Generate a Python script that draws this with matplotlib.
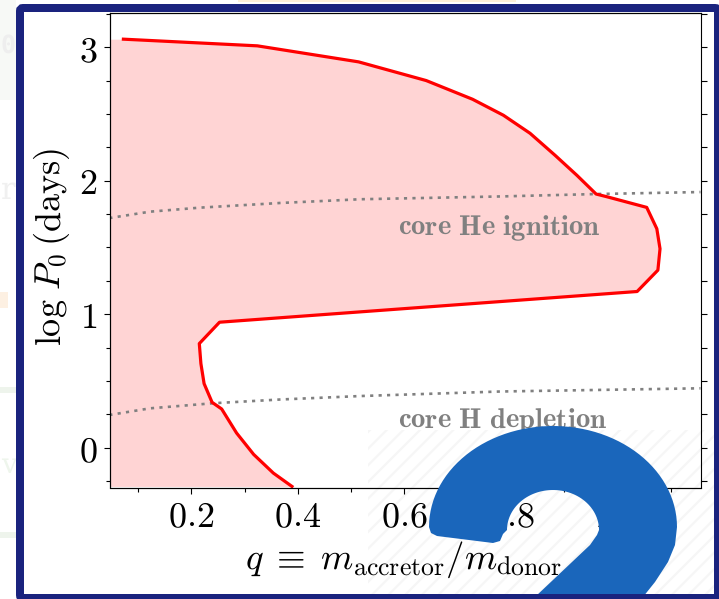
import matplotlib
matplotlib.use('Agg')
import matplotlib.pyplot as plt
from matplotlib.patches import FancyBboxPatch, Rectangle, Polygon
import numpy as np

plt.rcParams['mathtext.fontset'] = 'cm'
plt.rcParams['font.family'] = ['DejaVu Serif']
plt.rcParams['hatch.linewidth'] = 1.6
plt.rcParams['text.hinting'] = 'none'

# Boundary of the shaded region
boundary_q = [0.0725, 0.324, 0.514, 0.641, 0.728, 0.786, 0.836, 0.883, 0.924,
              0.960, 0.980, 1.055, 1.074, 1.080, 1.076, 1.037, 0.253, 0.215,
              0.218, 0.224, 0.239, 0.257, 0.285, 0.317, 0.354, 0.389]
boundary_logp = [3.06, 3.01, 2.89, 2.75, 2.61, 2.49, 2.355, 2.19, 2.04, 1.90,
                 1.88, 1.80, 1.64, 1.49, 1.33, 1.17, 0.94, 0.78, 0.63, 0.48,
                 0.34, 0.29, 0.11, -0.05, -0.19, -0.29]

# Dotted evolutionary limits
he_q = [0.046, 0.1225, 0.216, 0.3665, 0.517, 0.78, 0.96, 1.156]
he_logp = [1.72, 1.768, 1.798, 1.833, 1.861, 1.882, 1.90, 1.915]
h_q = [0.046, 0.1225, 0.2407, 0.3665, 0.517, 0.78, 1.156]
h_logp = [0.245, 0.295, 0.333, 0.361, 0.387, 0.421, 0.445]

xmajor = [0.2, 0.4, 0.6, 0.8, 1.0]
xmajor_labels = ['$0.2$', '$0.4$', '$0.6$', '$0.8$', '$1.0$']
xminor = [0.1, 0.3, 0.5, 0.7, 0.9, 1.1]
ymajor = [0, 1, 2, 3]
ymajor_labels = ['$0$', '$1$', '$2$', '$3$']
yminor = [-0.25, 0.25, 0.5, 0.75, 1.25, 1.5, 1.75, 2.25, 2.5, 2.75, 3.25]

W, H = 719, 599
XLIM = (0.0464, 1.156)
YLIM = (-0.298, 3.256)


def overlay(fig, zorder):
    """Full-figure axes in pixel coordinates, y going down."""
    ov = fig.add_axes([0, 0, 1, 1], zorder=zorder)
    ov.set_xlim(0, W)
    ov.set_ylim(H, 0)
    ov.axis('off')
    return ov


def draw_page(ov):
    # Faded page content left behind the card
    ov.add_patch(Rectangle((0, 0), 16, 100, color='#f7f9f6', lw=0))
    ov.add_patch(Rectangle((0, 387), 16, 6, color='#eef4ec', lw=0))
    ov.add_patch(Rectangle((0, 532), 16, 6, color='#eef4ec', lw=0))
    ov.add_patch(Rectangle((0, 292), 8, 16, color='#fdf0e2', lw=0))
    ov.add_patch(Rectangle((238, 0), 278, 1.5, color='#fdf0d8', lw=0))
    ov.text(1, 46, '0', fontsize=18, color='#eeeeee', va='center',
            fontweight='bold', family='DejaVu Sans Mono')
    ov.text(1, 190, 'r', fontsize=22, color='#f0f0f0', va='center')
    ov.text(1, 465, 'v', fontsize=20, color='#eef5ec', va='center')
    ov.add_patch(Rectangle((20, 8), 696, 590, color='white', lw=0))
    # Hatched corner sits under the axes
    ov.add_patch(Rectangle((368, 430), 346, 164, fill=False,
                           edgecolor='#f6f6f6', hatch='//', lw=0))


def draw_badge(ov):
    # Big blue numeral cropped by the card
    t = np.linspace(np.pi, 2 * np.pi, 60)
    outer = np.c_[553 + 124 * np.cos(t), 527 + 101 * np.sin(t)]
    inner = np.c_[553 + 46 * np.cos(t), 530 + 40 * np.sin(t)][::-1]
    tail_out = [(675, 545), (668, 562), (655, 582), (643, 597)]
    tail_in = [(535, 597), (590, 545), (597, 535)]
    tip = [(503, 534), (500, 541), (493, 543), (437, 536), (431, 533)]
    pts = np.vstack([outer, tail_out, tail_in, inner, tip])
    ov.add_patch(Polygon(pts, closed=True, color='#1a66bb', lw=0))
    # Card border goes on top
    ov.add_patch(FancyBboxPatch((20, 8), 698, 590, fill=False,
                                boxstyle='round,pad=0,rounding_size=3',
                                edgecolor='#1a237e', lw=5.76))


def main():
    fig = plt.figure(figsize=(W / 100, H / 100), dpi=100, facecolor='white')
    draw_page(overlay(fig, 0))

    ax = fig.add_axes([109.5 / W, (H - 487.5) / H, 591 / W, 474.5 / H],
                      zorder=1, facecolor='none')
    ax.fill_betweenx(boundary_logp, XLIM[0], boundary_q, color='red',
                     alpha=0.17, lw=0)
    ax.plot(he_q, he_logp, color='gray', lw=1.9, ls=(0, (1.2, 2.0)),
            dash_capstyle='butt')
    ax.plot(h_q, h_logp, color='gray', lw=1.9, ls=(0, (1.2, 2.0)),
            dash_capstyle='butt')
    ax.plot(boundary_q, boundary_logp, color='red', lw=2.3, clip_on=False)

    ax.text(0.588, 1.645, r'$\mathbf{core\ He\ ignition}$', fontsize=20.6,
            color='gray', ha='left', va='center')
    ax.text(0.588, 0.2, r'$\mathbf{core\ H\ depletion}$', fontsize=20.6,
            color='gray', ha='left', va='center')

    ax.set_xlim(*XLIM)
    ax.set_ylim(*YLIM)
    ax.set_xticks(xmajor)
    ax.set_xticklabels(xmajor_labels)
    ax.set_xticks(xminor, minor=True)
    ax.set_yticks(ymajor)
    ax.set_yticklabels(ymajor_labels)
    ax.set_yticks(yminor, minor=True)
    ax.tick_params(which='major', length=4.5, width=0.8, labelsize=26, pad=4)
    ax.tick_params(which='minor', length=2.6, width=0.8)
    ax.spines['right'].set_visible(False)

    ax.set_xlabel(r'$q\;\equiv\;m_{\mathrm{accretor}}/m_{\mathrm{donor}}$',
                  fontsize=26.5)
    ax.set_ylabel(r'$\log\,P_0\,(\mathrm{days})$', fontsize=26)
    ax.xaxis.set_label_coords((404 - 109.5) / 591, -(539 - 487.5) / 474.5,
                              transform=ax.transAxes)
    ax.yaxis.set_label_coords((72 - 109.5) / 591, (487.5 - 247) / 474.5,
                              transform=ax.transAxes)

    # Right side carries evenly long ticks and no labels
    right = ax.twinx()
    right.set_ylim(*YLIM)
    right.set_yticks(sorted(ymajor + yminor))
    right.tick_params(length=4.5, width=0.8, labelright=False)

    draw_badge(overlay(fig, 2))

    fig.savefig('out.png', dpi=100)


if __name__ == '__main__':
    main()
